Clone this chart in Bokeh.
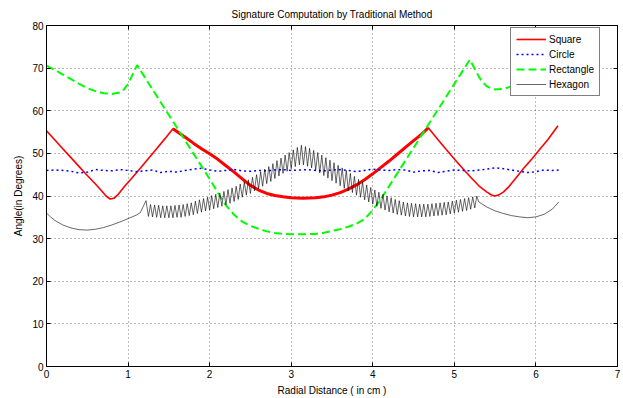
import numpy as np
from bokeh.plotting import figure
from bokeh.models import Range1d, LinearAxis, Legend, LegendItem, FixedTicker
from bokeh.embed import file_html
from bokeh.resources import INLINE

# ---------------- data ----------------
x_ticks = [0, 1, 2, 3, 4, 5, 6, 7]
y_ticks = [0, 10, 20, 30, 40, 50, 60, 70, 80]

square_x = [0, 0.1, 0.2, 0.3, 0.4, 0.5, 0.6, 0.68, 0.73, 0.78, 0.83, 0.88, 0.95, 1.05, 1.15, 1.25, 1.35, 1.45, 1.55,
            1.7, 1.8, 1.9, 2.0, 2.1, 2.2, 2.3, 2.4, 2.5, 2.6, 2.7, 2.8, 2.9, 3.0, 3.14, 3.3, 3.4, 3.5, 3.6, 3.7,
            3.8, 3.9, 4.0, 4.1, 4.2, 4.3, 4.4, 4.5, 4.6, 4.68,
            4.8, 4.9, 5.0, 5.1, 5.2, 5.3, 5.4, 5.45, 5.49, 5.54, 5.6, 5.67, 5.75, 5.85, 5.95, 6.05, 6.15, 6.27]
square_y = [55.3, 53.2, 51.1, 49.0, 46.9, 44.8, 42.8, 41.1, 40.0, 39.3, 39.5, 40.4, 42.1, 44.3, 46.5, 48.8, 51.1, 53.4, 55.8,
            53.8, 52.4, 51.1, 49.9, 48.6, 47.1, 45.6, 44.0, 42.5, 41.4, 40.6, 40.1, 39.8, 39.6, 39.5, 39.6, 39.8, 40.2, 40.8, 41.6,
            42.6, 43.8, 45.2, 46.7, 48.2, 49.8, 51.4, 53.0, 54.5, 56.0,
            53.2, 50.9, 48.7, 46.5, 44.4, 42.4, 40.9, 40.3, 40.0, 40.2, 40.9, 42.2, 44.1, 46.5, 48.7, 51.0, 53.3, 56.5]

circle_x = [0.0, 0.1, 0.2, 0.3, 0.4, 0.5, 0.6, 0.7,
            0.8, 0.9, 1.0, 1.1, 1.2, 1.3, 1.4, 1.5,
            1.6, 1.7, 1.8, 1.9, 2.0, 2.1, 2.2, 2.3,
            2.4, 2.5, 2.6, 2.7, 2.8, 2.9, 3.0, 3.1,
            3.2, 3.3, 3.4, 3.5, 3.6, 3.7, 3.8, 3.9,
            4.0, 4.1, 4.2, 4.3, 4.4, 4.5, 4.6, 4.7,
            4.8, 4.9, 5.0, 5.1, 5.2, 5.3, 5.4, 5.5,
            5.6, 5.7, 5.8, 5.9, 6.0, 6.1, 6.2, 6.28]
circle_y = [46.0, 46.1, 46.0, 45.8, 45.4, 45.6, 46.2, 46.0,
            45.9, 46.2, 46.0, 45.7, 45.9, 46.1, 45.5, 45.8,
            45.6, 46.0, 46.3, 46.5, 46.1, 45.8, 46.0, 46.2,
            45.9, 45.8, 46.0, 45.9, 46.1, 46.2, 46.0, 46.1,
            46.2, 46.0, 45.9, 46.1, 46.2, 46.0, 45.7, 46.0,
            46.3, 46.1, 46.0, 46.2, 46.1, 45.6, 45.9, 46.0,
            45.5, 45.8, 46.1, 46.0, 45.9, 46.1, 46.3, 46.6,
            46.4, 46.1, 45.8, 45.5, 45.7, 46.1, 46.0, 46.1]

rect_x = [0, 0.1, 0.2, 0.3, 0.4, 0.5, 0.6, 0.7, 0.8, 0.9, 0.95, 1.0, 1.05, 1.11,
          1.2, 1.3, 1.4, 1.5, 1.6, 1.7, 1.8, 1.9, 2.0, 2.1, 2.2, 2.3, 2.4, 2.5, 2.6, 2.7, 2.8, 2.9, 3.0, 3.14,
          3.3, 3.4, 3.5, 3.6, 3.7, 3.8, 3.9, 4.0, 4.1, 4.2, 4.3, 4.4, 4.5, 4.6, 4.7, 4.8, 4.9, 5.0, 5.1, 5.19,
          5.25, 5.3, 5.35, 5.4, 5.48, 5.6, 5.74, 5.9, 6.0, 6.1, 6.2, 6.28]
rect_y = [70.6, 69.6, 68.5, 67.4, 66.3, 65.3, 64.6, 64.1, 63.95, 64.3, 65.0, 66.3, 68.3, 70.7,
          68.0, 65.0, 62.0, 59.0, 56.0, 53.0, 50.0, 47.0, 44.0, 40.8, 37.8, 35.6, 34.0, 33.0, 32.3, 31.7, 31.3, 31.1, 31.0, 31.0,
          31.1, 31.4, 31.8, 32.2, 32.8, 33.5, 34.6, 36.7, 39.3, 42.3, 45.3, 48.3, 51.3, 54.3, 57.3, 60.3, 63.3, 66.3, 69.3, 72.0,
          69.8, 68.0, 66.6, 65.7, 65.0, 65.1, 66.0, 67.2, 68.0, 68.9, 69.8, 70.6]

hex_left_x = [0, 0.05, 0.1, 0.2, 0.3, 0.4, 0.5, 0.6, 0.7, 0.8, 0.9, 1.0, 1.1, 1.15, 1.22]
hex_left_y = [36.0, 35.1, 34.3, 33.2, 32.5, 32.1, 32.0, 32.2, 32.6, 33.2, 33.9, 34.7, 35.5, 36.1, 38.9]

hex_zz_x = [1.25, 1.275, 1.3, 1.325, 1.35, 1.375, 1.4, 1.425,
            1.45, 1.475, 1.5, 1.525, 1.55, 1.575, 1.6, 1.625,
            1.65, 1.675, 1.7, 1.725, 1.75, 1.775, 1.8, 1.825,
            1.85, 1.875, 1.9, 1.925, 1.95, 1.975, 2.0, 2.025,
            2.05, 2.075, 2.1, 2.125, 2.15, 2.175, 2.2, 2.225,
            2.25, 2.275, 2.3, 2.325, 2.35, 2.375, 2.4, 2.425,
            2.45, 2.475, 2.5, 2.525, 2.55, 2.575, 2.6, 2.625,
            2.65, 2.675, 2.7, 2.725, 2.75, 2.775, 2.8, 2.825,
            2.85, 2.875, 2.9, 2.925, 2.95, 2.975, 3.0, 3.025,
            3.05, 3.075, 3.1, 3.125, 3.15, 3.175, 3.2, 3.225,
            3.25, 3.275, 3.3, 3.325, 3.35, 3.375, 3.4, 3.425,
            3.45, 3.475, 3.5, 3.525, 3.55, 3.575, 3.6, 3.625,
            3.65, 3.675, 3.7, 3.725, 3.75, 3.775, 3.8, 3.825,
            3.85, 3.875, 3.9, 3.925, 3.95, 3.975, 4.0, 4.025,
            4.05, 4.075, 4.1, 4.125, 4.15, 4.175, 4.2, 4.225,
            4.25, 4.275, 4.3, 4.325, 4.35, 4.375, 4.4, 4.425,
            4.45, 4.475, 4.5, 4.525, 4.55, 4.575, 4.6, 4.625,
            4.65, 4.675, 4.7, 4.725, 4.75, 4.775, 4.8, 4.825,
            4.85, 4.875, 4.9, 4.925, 4.95, 4.975, 5.0, 5.025,
            5.05, 5.075, 5.1, 5.125, 5.15, 5.175, 5.2, 5.225,
            5.25, 5.275]
hex_zz_y = [35.2, 38.0, 35.1, 37.9, 35.0, 37.8, 34.9, 37.7,
            34.9, 37.7, 34.9, 37.7, 34.9, 37.8, 35.0, 37.9,
            35.0, 38.0, 35.2, 38.2, 35.4, 38.4, 35.6, 38.8,
            35.9, 39.1, 36.2, 39.4, 36.5, 39.7, 36.7, 40.1,
            37.0, 40.4, 37.3, 40.7, 37.6, 41.1, 37.9, 41.5,
            38.3, 41.9, 38.7, 42.3, 39.2, 42.8, 39.7, 43.3,
            40.2, 43.8, 40.6, 44.4, 41.2, 45.0, 41.7, 45.7,
            42.3, 46.3, 42.9, 46.9, 43.4, 47.6, 44.1, 48.3,
            44.7, 48.9, 45.3, 49.6, 45.8, 50.2, 46.4, 50.8,
            46.9, 51.4, 47.3, 51.9, 47.3, 51.6, 47.0, 51.2,
            46.6, 50.7, 46.0, 50.2, 45.4, 49.6, 44.8, 49.0,
            44.2, 48.4, 43.6, 47.8, 43.0, 47.2, 42.4, 46.6,
            41.8, 46.0, 41.2, 45.3, 40.8, 44.6, 40.2, 43.9,
            39.7, 43.3, 39.1, 42.6, 38.6, 42.0, 38.1, 41.4,
            37.6, 40.9, 37.1, 40.4, 36.7, 40.0, 36.3, 39.6,
            36.0, 39.2, 35.7, 38.9, 35.5, 38.6, 35.3, 38.4,
            35.2, 38.3, 35.1, 38.2, 35.1, 38.1, 35.1, 38.1,
            35.1, 38.1, 35.2, 38.2, 35.3, 38.3, 35.4, 38.4,
            35.5, 38.5, 35.6, 38.6, 35.8, 38.8, 36.0, 39.0,
            36.2, 39.2, 36.4, 39.4, 36.6, 39.6, 36.9, 39.8,
            37.2, 40.0]

hex_right_x = [5.3, 5.35, 5.4, 5.5, 5.6, 5.7, 5.8, 5.9, 6.0, 6.1, 6.2, 6.28]
hex_right_y = [38.6, 38.0, 37.4, 36.5, 35.9, 35.4, 35.1, 34.9, 35.1, 35.7, 36.9, 38.6]

series_names = ["Square", "Circle", "Rectangle", "Hexagon"]

# ---------------- figure ----------------
FONT = "Liberation Sans"

p = figure(width=623, height=398, output_backend="svg", toolbar_location=None,
           x_range=Range1d(0, 7), y_range=Range1d(0, 80),
           min_border_left=46, min_border_right=6, min_border_top=25, min_border_bottom=29,
           title="Signature Computation by Traditional Method")

p.title.text_font = FONT
p.title.text_font_size = "10px"
p.title.text_font_style = "normal"
p.title.text_color = "#000000"
p.title.align = "center"
p.title.standoff = 11

p.background_fill_color = "white"
p.border_fill_color = "white"
p.outline_line_color = "black"
p.outline_line_width = 1

for ax, ticks in ((p.xaxis[0], x_ticks), (p.yaxis[0], y_ticks)):
    ax.ticker = FixedTicker(ticks=ticks)
    ax.major_tick_in = 4
    ax.major_tick_out = 0
    ax.minor_tick_in = 0
    ax.minor_tick_out = 0
    ax.axis_line_color = "black"
    ax.major_tick_line_color = "black"
    ax.major_label_text_font = FONT
    ax.major_label_text_font_size = "10px"
    ax.major_label_text_color = "#000000"
    ax.major_label_standoff = 3
    ax.axis_label_text_font = FONT
    ax.axis_label_text_font_size = "10px"
    ax.axis_label_text_font_style = "normal"
    ax.axis_label_text_color = "#000000"

p.xaxis.axis_label = "Radial Distance ( in cm )"
p.xaxis.axis_label_standoff = 4
p.yaxis.axis_label = "Angle(in Degrees)"
p.yaxis.axis_label_standoff = 5

# box ticks on the top and right edges (no labels)
for side, ticks in (("above", x_ticks), ("right", y_ticks)):
    ax2 = LinearAxis(ticker=FixedTicker(ticks=ticks),
                     major_label_text_font_size="0px", major_label_text_color=None,
                     major_label_standoff=0,
                     major_tick_in=4, major_tick_out=0, minor_tick_in=0, minor_tick_out=0,
                     axis_line_color="black", major_tick_line_color="black")
    p.add_layout(ax2, side)

p.xgrid.ticker = FixedTicker(ticks=x_ticks)
p.ygrid.ticker = FixedTicker(ticks=y_ticks)
for g in (p.xgrid[0], p.ygrid[0]):
    g.grid_line_color = "#000000"
    g.grid_line_alpha = 0.55
    g.grid_line_dash = "1 3"
    g.grid_line_width = 1

# ---------------- series ----------------
sq_arr = np.array(square_y)
sx_arr = np.array(square_x)
i0 = int(np.argmax(np.where(sx_arr < 3.14, sq_arr, -1)))
i1 = int(np.argmax(np.where((sx_arr > 3.14) & (sx_arr < 5.0), sq_arr, -1)))

r_sq = p.line(square_x, square_y, line_color="#ff0000", line_width=1.6)
p.line(square_x[i0:i1 + 1], square_y[i0:i1 + 1], line_color="#ff0000", line_width=3)
r_ci = p.line(circle_x, circle_y, line_color="#0000ff", line_width=1.5, line_dash="2 3")
r_re = p.line(rect_x, rect_y, line_color="#00ff00", line_width=2, line_dash="8 4")
hex_x = hex_left_x + hex_zz_x + hex_right_x
hex_y = hex_left_y + hex_zz_y + hex_right_y
r_hx = p.line(hex_x, hex_y, line_color="#000000", line_width=0.8, line_alpha=0.75)

legend = Legend(items=[LegendItem(label=n, renderers=[r]) for n, r in
                       zip(series_names, [r_sq, r_ci, r_re, r_hx])],
                location=(464, 270))
legend.label_text_font = FONT
legend.label_text_font_size = "10px"
legend.label_text_color = "#000000"
legend.glyph_width = 30
legend.glyph_height = 12
legend.label_height = 12
legend.label_standoff = 3
legend.spacing = 3
legend.padding = 5
legend.margin = 0
legend.border_line_color = "black"
legend.border_line_width = 1
legend.background_fill_color = "white"
legend.background_fill_alpha = 1.0
p.add_layout(legend)

open("out.html", "w").write(file_html(p, INLINE))
